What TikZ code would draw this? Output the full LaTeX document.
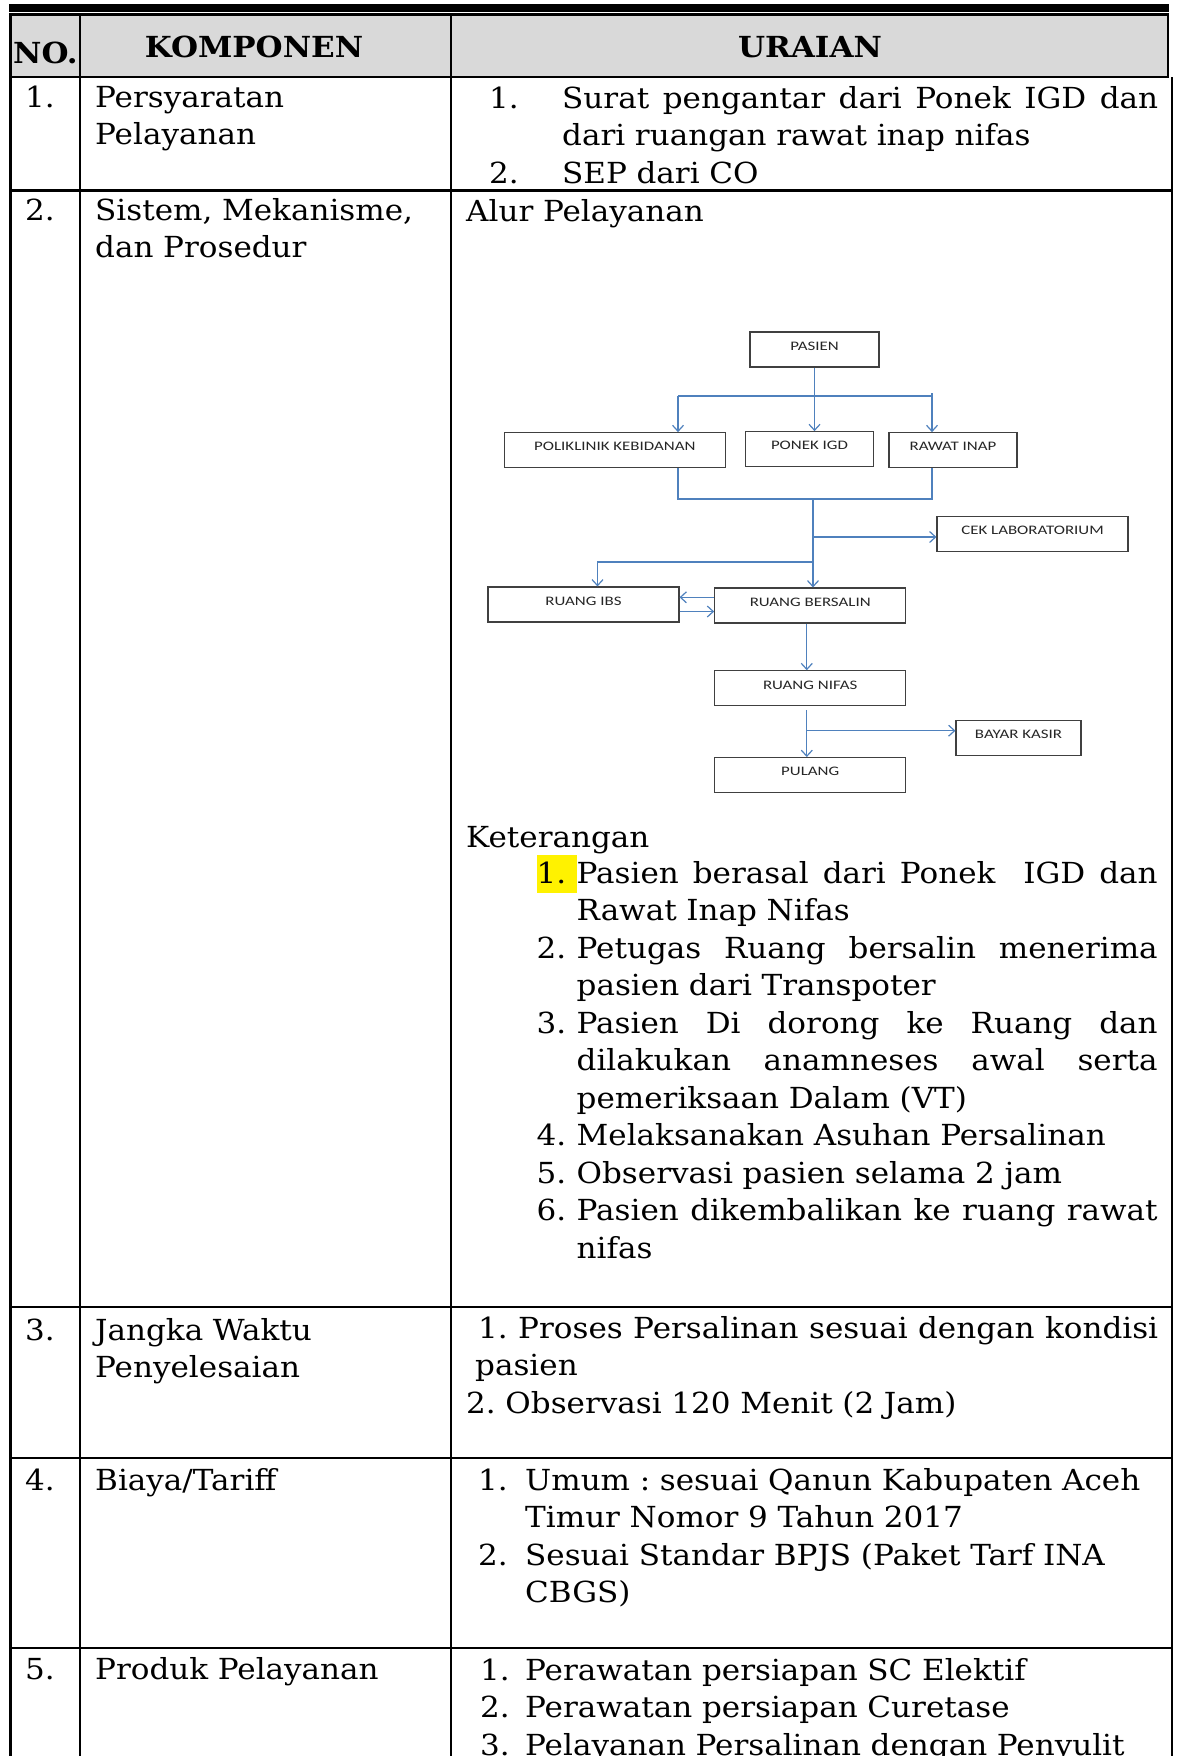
\documentclass[tikz,border=0pt]{standalone}
\usepackage{fontspec}
\setmainfont{DejaVu Serif}[FakeStretch=1.07]
\newfontfamily\boxfont{Carlito}[FakeStretch=1.3]
\usepackage{xcolor}
\usetikzlibrary{arrows.meta, positioning}

\definecolor{flowblue}{HTML}{4F81BD}
\definecolor{headgray}{HTML}{D9D9D9}
% one justified line of a given width
\newcommand{\justline}[2]{\hbox to #1{\spaceskip=9.9pt plus 1fil\relax #2}}

\begin{document}
\begin{tikzpicture}[
  x=1pt, y=-1pt,
  txt/.style    = {inner sep=0pt, anchor=base west, align=left,
                   text width=700pt, font=\fontsize{29}{37.5}\selectfont\frenchspacing},
  num/.style    = {inner sep=0pt, anchor=base east,
                   font=\fontsize{29}{37.5}\selectfont},
  head/.style   = {inner sep=0pt, anchor=base,
                   font=\fontsize{29}{37.5}\selectfont\bfseries},
  flow/.style   = {draw=black!75, line width=1.1pt, fill=white,
                   minimum height=35pt, inner sep=0pt, text depth=7pt,
                   font=\boxfont\fontsize{13}{15}\selectfont, text=black!85},
  line/.style   = {flowblue, line width=1.2pt},
  arr/.style    = {-{Straight Barb[length=6pt,width=11pt]}, flowblue, line width=1.2pt},
  rule/.style   = {line width=2.4pt, black}
]
\fill[white] (0,0) rectangle (1177,1756);
\useasboundingbox (0,0) rectangle (1177,1756);

% table frame
\fill[black] (9.3,4) rectangle (1169,12);
\draw[rule, fill=headgray] (10.5,14.3) rectangle (1168,77);
\draw[rule] (10.5,77) -- (10.5,1760);
\draw[rule] (80,14.3) -- (80,1760);
\draw[rule] (451,14.3) -- (451,1760);
\draw[rule] (1172,77) -- (1172,1760);
\foreach \yrow in {190.5,1307,1458,1648}
  \draw[rule] (10.5,\yrow) -- (1172,\yrow);

% header
\node[head, anchor=base west] (hno) at (13,63) {NO.};
\node[head] (hkomp) at (254,57) {KOMPONEN};
\node[head] (hurai) at (810,57) {URAIAN};

% row numbers
\node[num] (n1) at (55,107) {1.};
\node[num] (n2) at (55,220) {2.};
\node[num] (n3) at (55,1340) {3.};
\node[num] (n4) at (55,1490) {4.};
\node[num] (n5) at (55,1679) {5.};

% komponen
\node[txt] (k1) at (95,107) {Persyaratan\\Pelayanan};
\node[txt] (k2) at (95,220) {Sistem, Mekanisme,\\dan Prosedur};
\node[txt] (k3) at (95,1340) {Jangka Waktu\\Penyelesaian};
\node[txt] (k4) at (95,1490) {Biaya/Tariff};
\node[txt] (k5) at (95,1679) {Produk Pelayanan};

% uraian
\node[txt] (u1) at (489,108) {\makebox[73pt][l]{1.}\justline{596pt}{Surat pengantar dari Ponek IGD dan}\\
  \hspace*{73pt}dari ruangan rawat inap nifas\\
  \makebox[73pt][l]{2.}SEP dari CO};
\node[txt] (alur) at (466,221) {Alur Pelayanan};
\node[txt] (ket) at (466,847) {Keterangan};
\fill[yellow] (536.6,855) rectangle (576.7,893.3);
\node[txt] (ketlist) at (536.5,883.3) {%
  \makebox[40pt][l]{1.}\justline{581pt}{Pasien berasal dari Ponek\ \ IGD dan}\\
  \hspace*{40pt}Rawat Inap Nifas\\
  \makebox[40pt][l]{2.}\justline{581pt}{Petugas Ruang bersalin menerima}\\
  \hspace*{40pt}pasien dari Transpoter\\
  \makebox[40pt][l]{3.}\justline{581pt}{Pasien Di dorong ke Ruang dan}\\
  \hspace*{40pt}\justline{581pt}{dilakukan anamneses awal serta}\\
  \hspace*{40pt}pemeriksaan Dalam (VT)\\
  \makebox[40pt][l]{4.}Melaksanakan Asuhan Persalinan\\
  \makebox[40pt][l]{5.}Observasi pasien selama 2 jam\\
  \makebox[40pt][l]{6.}\justline{581pt}{Pasien dikembalikan ke ruang rawat}\\
  \hspace*{40pt}nifas};
\node[txt] (u3) at (466,1338) {\hspace*{12pt}\justline{680pt}{1. Proses Persalinan sesuai dengan kondisi}\\
  \hspace*{9pt}pasien\\
  2. Observasi 120 Menit (2 Jam)};
\node[txt] (u4) at (478,1490) {\makebox[47pt][l]{1.}Umum : sesuai Qanun Kabupaten Aceh\\
  \hspace*{47pt}Timur Nomor 9 Tahun 2017\\
  \makebox[47pt][l]{2.}Sesuai Standar BPJS (Paket Tarf INA\\
  \hspace*{47pt}CBGS)};
\node[txt] (u5) at (480,1680) {\makebox[45pt][l]{1.}Perawatan persiapan SC Elektif\\
  \makebox[45pt][l]{2.}Perawatan persiapan Curetase\\
  \makebox[45pt][l]{3.}Pelayanan Persalinan dengan Penyulit};

% alur pelayanan
\node[flow, minimum width=129pt] (pasien) at (814.5,349.5) {PASIEN};
\node[flow, minimum width=220.5pt] (poli) at (614.8,450.2) {POLIKLINIK KEBIDANAN};
\node[flow, minimum width=128pt] (ponek) at (809.5,449.2) {PONEK IGD};
\node[flow, minimum width=128pt] (rawat) at (953,450.2) {RAWAT INAP};
\node[flow, minimum width=191pt] (lab) at (1032.5,533.8) {CEK LABORATORIUM};
\node[flow, minimum width=191pt] (ibs) at (583.5,604.5) {RUANG IBS};
\node[flow, minimum width=191pt] (bersalin) at (810.2,605.5) {RUANG BERSALIN};
\node[flow, minimum width=191pt, below=46.7pt of bersalin] (nifas) {RUANG NIFAS};
\node[flow, minimum width=125pt] (kasir) at (1018.5,737.8) {BAYAR KASIR};
\node[flow, minimum width=191pt, below=50.7pt of nifas] (pulang) {PULANG};

\coordinate (busL) at (678,396);
\coordinate (busR) at (932,396);
\coordinate (joinL) at (678,499);
\coordinate (joinR) at (932,499);
\coordinate (joinM) at (813,499);
\coordinate (labJ) at (813,537);
\coordinate (ibsJ) at (813,562);
\coordinate (ibsC) at (597.5,562);
\coordinate (kasirJ) at (806.8,730.7);

\draw[arr] (pasien.south) -- (pasien.south |- ponek.north);
\draw[line] (busL) -- (busR);
\draw[arr] (busL) -- (busL |- poli.north);
\draw[arr] ([yshift=3pt]busR) -- (busR |- rawat.north);
\draw[line] (busL |- poli.south) -- (joinL) -- (joinR) -- (busR |- rawat.south);
\draw[arr] (joinM) -- (joinM |- bersalin.north);
\draw[arr] (labJ) -- (labJ -| lab.west);
\draw[arr] (ibsJ) -- (ibsC) -- (ibsC |- ibs.north);
\draw[arr] ([yshift=8.2pt]bersalin.west) -- ([yshift=8.2pt]bersalin.west -| ibs.east);
\draw[arr] ([yshift=-7pt]ibs.east) -- ([yshift=-7pt]ibs.east -| bersalin.west);
\draw[arr] ([xshift=-3.4pt]bersalin.south) -- ([xshift=-3.4pt]bersalin.south |- nifas.north);
\draw[arr] ([xshift=-3.4pt,yshift=-4pt]nifas.south) -- ([xshift=-3.4pt]nifas.south |- pulang.north);
\draw[arr] (kasirJ) -- (kasirJ -| kasir.west);
\end{tikzpicture}
\end{document}
